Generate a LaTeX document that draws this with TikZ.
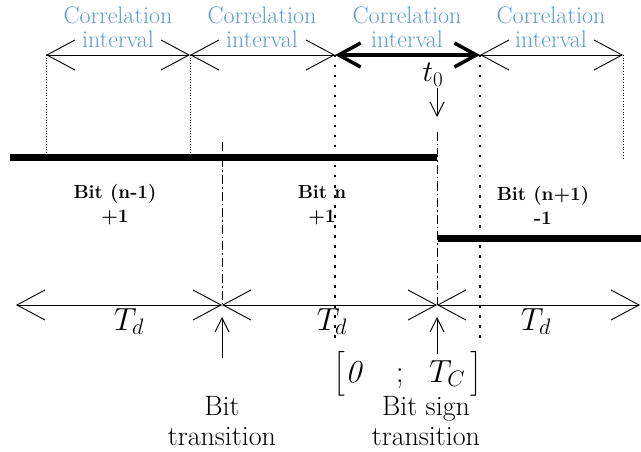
\RequirePackage{fix-cm}
\documentclass[tikz,border=0pt]{standalone}
\usepackage{amsmath}
\usetikzlibrary{arrows.meta}
\definecolor{corrblue}{RGB}{91,155,213}

\begin{document}
\begin{tikzpicture}[x=1pt,y=-1pt,
  intarrow/.style={line width=0.9pt,>={Straight Barb[length=28pt,width=30pt]},<->},
  boldarrow/.style={line width=3.5pt,>={Straight Barb[length=22pt,width=24pt]},<->},
  smallarrow/.style={line width=0.9pt,-{Straight Barb[length=14pt,width=14pt]}},
  level/.style={line width=7pt},
  thindot/.style={line width=0.7pt,dotted},
  bigdot/.style={line width=2.5pt,dash pattern=on 2.5pt off 7.5pt},
  dashdot/.style={line width=0.9pt,dash pattern=on 9pt off 3pt on 1.5pt off 3pt},
  corr/.style={text=corrblue,align=center,inner sep=0pt,font=\fontsize{24}{24}\selectfont},
  bitlbl/.style={align=center,inner sep=0pt,font=\fontsize{19}{24}\selectfont\bfseries},
  translbl/.style={align=center,inner sep=0pt,font=\fontsize{28}{30}\selectfont},
  mathlbl/.style={anchor=base,inner sep=0pt,font=\fontsize{32}{36}\selectfont}]
\useasboundingbox (0,0) rectangle (641,452);
\coordinate (c1) at (46,55);
\coordinate (c2) at (190,55);
\coordinate (c3) at (335,55);
\coordinate (c4) at (480,55);
\coordinate (c5) at (623,55);
\coordinate (s0) at (10,158);
\coordinate (s1) at (437,158);
\coordinate (s2) at (438,238);
\coordinate (s3) at (641,238);
\coordinate (b0) at (16,305);
\coordinate (b1) at (222,305);
\coordinate (b2) at (437,305);
\coordinate (b3) at (640,305);
\coordinate (d3) at (335,343);
\coordinate (d4) at (480,343);
\coordinate (e1) at (222,142);
\coordinate (e2) at (437,132);
\coordinate (u1) at (222,358);
\coordinate (u2) at (437,354);
\coordinate (t0top) at (437,88);
\coordinate (t0tip) at (437,117);
\draw[thindot] (c1) -- (c1 |- s0);
\draw[thindot] (c2) -- (c2 |- s0);
\draw[thindot] (c5) -- (c5 |- s0);
\draw[bigdot] (c3) -- (d3);
\draw[bigdot] (c4) -- (d4);
\draw[dashdot] (e1) -- (b1);
\draw[dashdot] (e2) -- (b2);
\draw[level] (s0) -- (s1);
\draw[level] (s2) -- (s3);
\draw[intarrow] (c1) -- (c2);
\draw[intarrow] (c2) -- (c3);
\draw[boldarrow] (c3) -- (c4);
\draw[intarrow] (c4) -- (c5);
\draw[intarrow] (b0) -- (b1);
\draw[intarrow] (b1) -- (b2);
\draw[intarrow] (b2) -- (b3);
\draw[smallarrow] (t0top) -- (t0tip);
\draw[smallarrow, shorten >=12pt] (u1) -- (b1);
\draw[smallarrow, shorten >=12pt] (u2) -- (b2);
\node[corr] (ci1) at (118,27) {Correlation\\interval};
\node[corr] (ci2) at (262,27) {Correlation\\interval};
\node[corr] (ci3) at (407,27) {Correlation\\interval};
\node[corr] (ci4) at (551,27) {Correlation\\interval};
\node[mathlbl,font=\fontsize{30}{34}\selectfont] (t0) at (433,82) {$t_0$};
\node[bitlbl] (bitprev) at (115,205) {Bit (n-1)\\+1};
\node[bitlbl] (bitcur) at (322,205) {Bit n\\+1};
\node[bitlbl] (bitnext) at (543,205) {Bit (n+1)\\-1};
\node[mathlbl] (td1) at (129,330) {$T_d$};
\node[mathlbl] (td2) at (332,330) {$T_d$};
\node[mathlbl] (td3) at (536,330) {$T_d$};
\node[mathlbl] (win) at (408,382) {$\bigl[\mathit{0}\hspace{30pt};\hspace{20pt}T_C\,\bigr]$};
\node[translbl] (tr1) at (222,421) {Bit\\transition};
\node[translbl] (tr2) at (426,421) {Bit sign\\transition};
\end{tikzpicture}
\end{document}
